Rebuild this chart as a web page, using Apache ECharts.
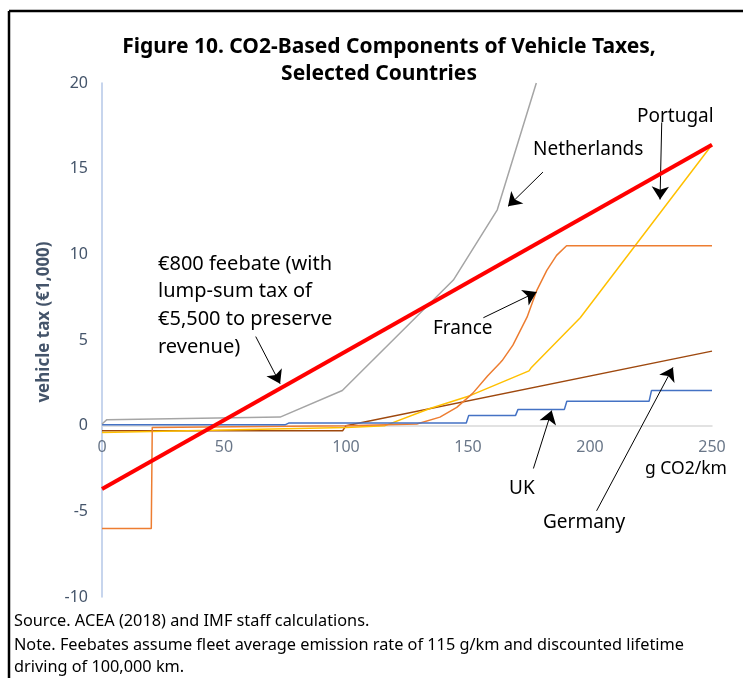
<!DOCTYPE html>
<html>
<head>
<meta charset="utf-8">
<title>CO2-Based Components of Vehicle Taxes</title>
<script src="https://cdn.jsdelivr.net/npm/echarts@6/dist/echarts.min.js"></script>
<style>
  html, body { margin: 0; padding: 0; background: #fff; }
  #chart { width: 743px; height: 678px; }
</style>
</head>
<body>
<div id="chart"></div>
<script>
// x: g CO2/km, y: vehicle tax in €1,000
const feebate = [[0, -3.7], [250, 16.4]]
const netherlands = [[0, 0.1], [2, 0.35], [73, 0.5], [98.5, 2.05], [144, 8.5], [162, 12.6], [178, 20]]
const portugal = [[0, -0.4], [100, -0.1], [116, 0], [134.4, 1.0], [150.8, 1.75], [175, 3.2], [176, 3.4], [196, 6.3], [250, 16.4]]
const france = [[0, -6], [20.2, -6], [20.6, -0.1], [100, 0], [129, 0.1], [138.5, 0.5], [145.4, 1.07], [152, 1.9],
  [158, 2.9], [163, 3.64], [164, 3.8], [168.4, 4.7], [174.2, 6.33], [178.2, 7.9], [182.3, 9.06], [186.3, 9.94], [190.4, 10.5], [250, 10.5]]
const germany = [[0, -0.3], [98.6, -0.3], [100, 0], [250, 4.35]]
const uk = [[0, 0.05], [75, 0.05], [76.5, 0.15], [149.3, 0.15], [150.3, 0.6], [169.5, 0.6], [170.5, 0.95], [189.5, 0.95],
  [190.5, 1.42], [224.2, 1.42], [225.2, 2.05], [250, 2.05]]

const xTicks = [0, 50, 100, 150, 200, 250]
const yTicks = [-10, -5, 0, 5, 10, 15, 20]

// annotation arrows: [start, tip] in data units
const arrows = [
  [[63, 5.2], [73, 2.45]],
  [[180.7, 14.8], [166.4, 12.8]],
  [[229.4, 17.7], [228.7, 13.2]],
  [[156.3, 6.3], [178.1, 7.8]],
  [[176.8, -2.5], [184.3, 0.88]],
  [[202.7, -4.97], [234, 3.4]]
]

const FONT = '"Noto Sans", "Open Sans", sans-serif'
const chart = echarts.init(document.getElementById('chart'), null, { renderer: 'canvas' })

function lineSeries (name, data, color, width) {
  return {
    name: name,
    type: 'line',
    data: data,
    symbol: 'none',
    smooth: false,
    lineStyle: { color: color, width: width },
    silent: true,
    z: width > 3 ? 5 : 3
  }
}

function label (text, x, y, size) {
  return {
    type: 'text',
    x: x,
    y: y,
    style: { text: text, font: (size || 19) + 'px ' + FONT, fill: '#000', verticalAlign: 'middle', align: 'left' }
  }
}

const option = {
  backgroundColor: '#fff',
  animation: false,
  grid: { left: 102, right: 31, top: 83, bottom: 81 },
  xAxis: {
    type: 'value',
    min: 0,
    max: 250,
    interval: 50,
    axisLine: { onZero: true, lineStyle: { color: '#d9d9d9', width: 1.5 } },
    axisTick: { show: false },
    splitLine: { show: false },
    axisLabel: { show: false }
  },
  yAxis: {
    type: 'value',
    min: -10,
    max: 20,
    interval: 5,
    axisLine: { show: true, lineStyle: { color: '#b4c7e7', width: 1.5 } },
    axisTick: { show: false },
    splitLine: { show: false },
    axisLabel: {
      color: '#44546a', fontSize: 16, fontFamily: FONT, margin: 14,
      formatter: v => yTicks.includes(v) ? String(v) : ''
    }
  },
  series: [
    lineSeries('Germany', germany, '#9e480e', 1.5),
    lineSeries('Portugal', portugal, '#ffc000', 1.5),
    lineSeries('France', france, '#ed7d31', 1.5),
    lineSeries('UK', uk, '#4472c4', 1.5),
    lineSeries('Netherlands', netherlands, '#a5a5a5', 1.5),
    lineSeries('Feebate', feebate, '#ff0000', 4),
    {
      // x tick labels sitting on the zero line
      name: 'xlabels',
      type: 'scatter',
      data: xTicks.map(v => [v, 0]),
      symbolSize: 0,
      silent: true,
      label: {
        show: true,
        position: 'bottom',
        distance: 14,
        color: '#44546a',
        fontSize: 16,
        fontFamily: FONT,
        formatter: p => String(p.value[0])
      }
    },
    {
      name: 'arrows',
      type: 'line',
      data: [],
      silent: true,
      markLine: {
        silent: true,
        symbol: ['none', 'arrow'],
        symbolSize: 13,
        label: { show: false },
        lineStyle: { color: '#000', width: 1, type: 'solid' },
        data: arrows.map(a => [{ coord: a[0] }, { coord: a[1] }])
      }
    }
  ],
  graphic: [
    // frame (left and top edges only)
    { type: 'line', shape: { x1: 9, y1: 11, x2: 743, y2: 11 }, style: { stroke: '#000', lineWidth: 2.5 } },
    { type: 'line', shape: { x1: 9, y1: 11, x2: 9, y2: 678 }, style: { stroke: '#000', lineWidth: 2.5 } },
    {
      type: 'text', x: 389, y: 47,
      style: { text: 'Figure 10. CO2-Based Components of Vehicle Taxes,', font: 'bold 21px ' + FONT, fill: '#000', align: 'center', verticalAlign: 'middle' }
    },
    {
      type: 'text', x: 379, y: 74,
      style: { text: 'Selected Countries', font: 'bold 21px ' + FONT, fill: '#000', align: 'center', verticalAlign: 'middle' }
    },
    {
      type: 'text', x: 44, y: 322, rotation: Math.PI / 2,
      style: { text: 'vehicle tax (€1,000)', font: 'bold 17px ' + FONT, fill: '#44546a', align: 'center', verticalAlign: 'middle' }
    },
    {
      type: 'text', x: 158, y: 250,
      style: {
        text: '€800 feebate (with\nlump-sum tax of\n€5,500 to preserve\nrevenue)',
        font: '20px ' + FONT, fill: '#000', align: 'left', verticalAlign: 'top', lineHeight: 27.7
      }
    },
    label('Netherlands', 533, 150),
    label('Portugal', 637, 117),
    label('France', 433, 329),
    label('UK', 509, 489),
    label('Germany', 543, 523),
    label('g CO2/km', 645, 469, 17.5),
    label('Source. ACEA (2018) and IMF staff calculations.', 14, 621, 16.3),
    label('Note. Feebates assume fleet average emission rate of 115 g/km and discounted lifetime', 14, 645, 16.3),
    label('driving of 100,000 km.', 14, 667, 16.3)
  ]
}

chart.setOption(option)
</script>
</body>
</html>
